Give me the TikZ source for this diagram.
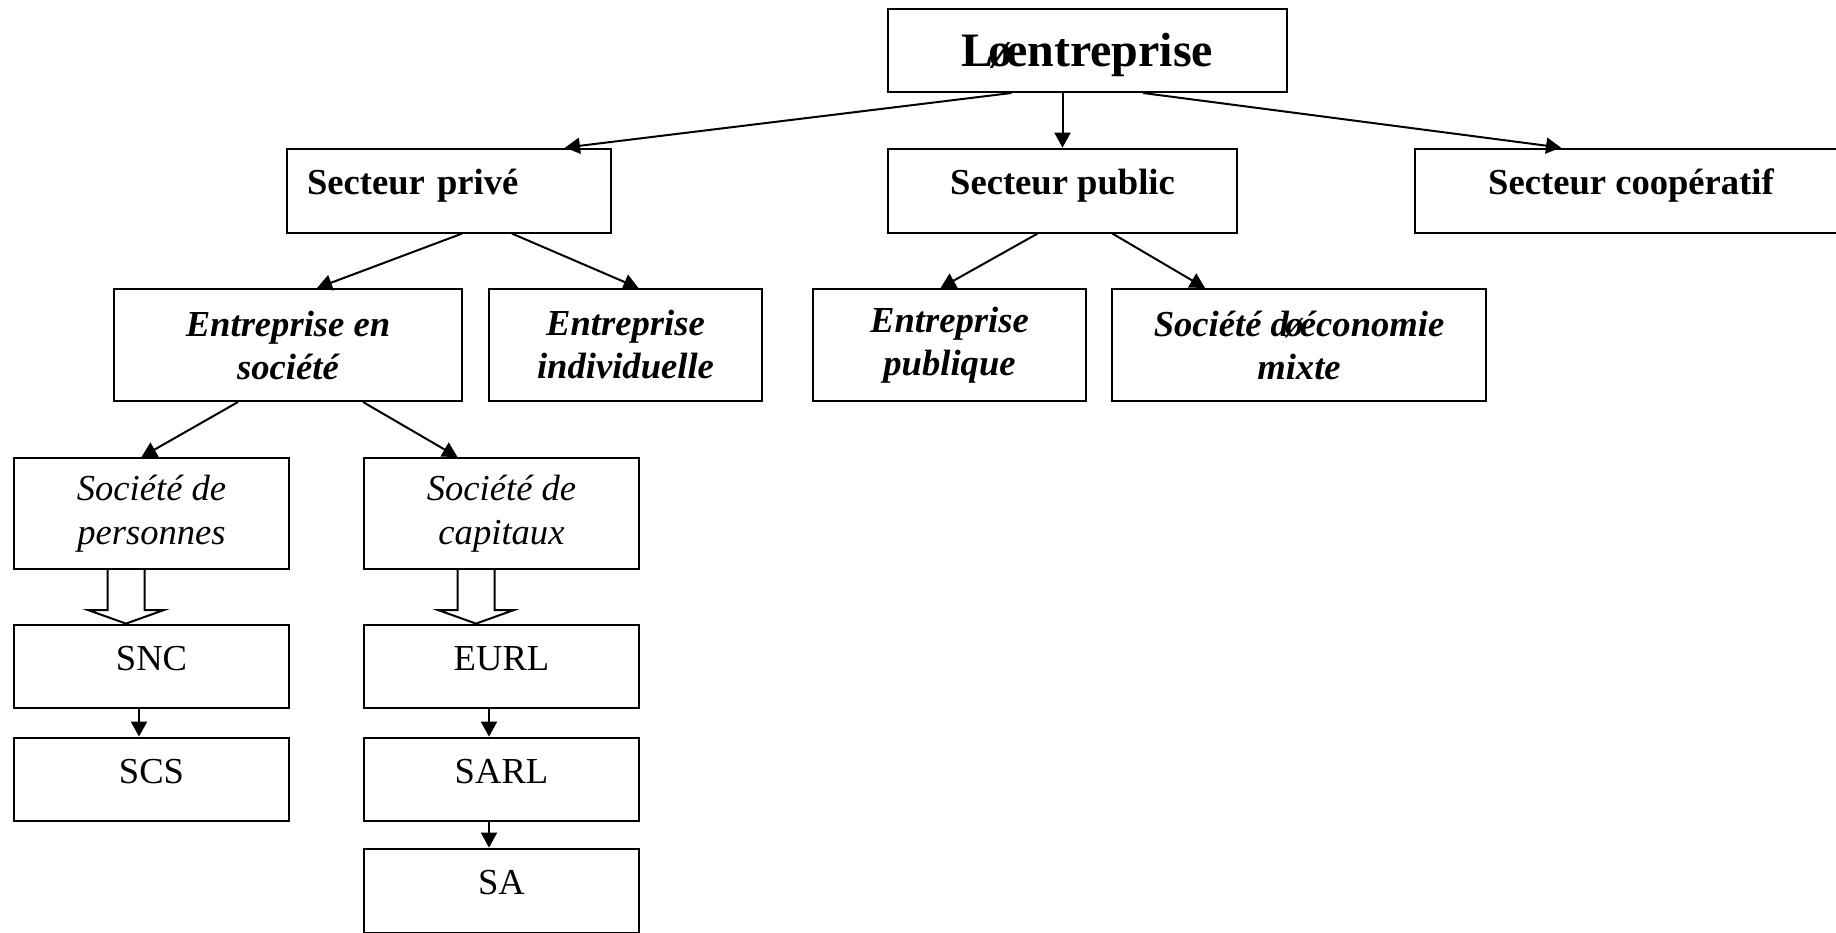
\documentclass[tikz,border=0pt]{standalone}
\usepackage{fontspec}
\setmainfont{Liberation Serif}
\usetikzlibrary{positioning}
\usetikzlibrary{arrows.meta}

\begin{document}
\begin{tikzpicture}[line width=1pt, >={Triangle[length=7.5pt, width=8pt]},
    main/.style = {draw, rectangle, inner sep=0pt},
    head/.style = {main, font=\fontsize{24}{28}\selectfont\bfseries, minimum width=199.5pt, minimum height=41.5pt, text height=16.5pt, text depth=1pt},
    sector/.style = {main, font=\fontsize{18.3}{21.5}\selectfont\bfseries, minimum height=42pt, text height=12pt, text depth=8pt},
    kind/.style = {main, font=\fontsize{18.3}{21.5}\selectfont\bfseries\itshape, minimum height=56pt, align=center},
    soc/.style = {main, font=\fontsize{18.3}{22}\selectfont\itshape, minimum width=137.5pt, minimum height=55.5pt, align=center},
    form/.style = {main, font=\fontsize{18.3}{22}\selectfont, minimum width=137.5pt, minimum height=41.5pt, text height=12pt, text depth=8pt}]
        \useasboundingbox (0,0) rectangle (918pt,-466pt);
        % top
        \node[head, anchor=north west] (1) at (443.5pt,-4pt) {L\kern-0.12em ø\kern-0.12em entreprise};
        % sectors
        \node[sector, minimum width=174.5pt] (3) [below right=27.3pt and 0pt of 1.south west] {Secteur public};
        \node[sector, text width=142pt, inner xsep=10pt, align=left] (2) [left=137.5pt of 3] {Secteur privé};
        \node[sector, minimum width=216pt] (4) [right=88pt of 3] {Secteur coopératif};
        % kinds of firms
        \node[kind, minimum width=174pt, anchor=north west] (5) at (56.5pt,-144pt) {Entreprise en\\société};
        \node[kind, minimum width=136.5pt] (6) [right=12.5pt of 5] {Entreprise\\individuelle};
        \node[kind, minimum width=136.5pt] (7) [right=24.5pt of 6] {Entreprise\\publique};
        \node[kind, minimum width=187pt] (8) [right=12pt of 7] {Société d\kern-0.1em ø\kern-0.1em économie\\mixte};
        % societies
        \node[soc, anchor=north west] (9) at (6.5pt,-228.5pt) {Société de\\personnes};
        \node[soc] (10) [right=36.5pt of 9] {Société de\\capitaux};
        \node[form] (11) [below=26.8pt of 9] {SNC};
        \node[form] (12) [below=14pt of 11] {SCS};
        \node[form] (13) [below=26.8pt of 10] {EURL};
        \node[form] (14) [below=14pt of 13] {SARL};
        \node[form, minimum height=42pt] (15) [below=13pt of 14] {SA};
        % links
        \draw[->] ([xshift=-38pt]1.south) -- ([xshift=58pt]2.north);
        \draw[->] (1.south -| 3.north) -- (3.north);
        \draw[->] ([xshift=27.75pt]1.south) -- ([xshift=73.5pt]4.north west);
        \draw[->] ([xshift=6.5pt]2.south) -- ([xshift=14.5pt]5.north);
        \draw[->] ([xshift=31.5pt]2.south) -- ([xshift=6.5pt]6.north);
        \draw[->] ([xshift=-12.5pt]3.south) -- ([xshift=-4.5pt]7.north);
        \draw[->] ([xshift=25pt]3.south) -- ([xshift=-47pt]8.north);
        \draw[->] ([xshift=-25pt]5.south) -- ([xshift=-5pt]9.north);
        \draw[->] ([xshift=37.5pt]5.south) -- ([xshift=-22pt]10.north);
        \draw[->] ([xshift=-6.25pt]11.south) -- ([xshift=-6.25pt]12.north);
        \draw[->] ([xshift=-6.25pt]13.south) -- ([xshift=-6.25pt]14.north);
        \draw[->] ([xshift=-6.25pt]14.south) -- ([xshift=-6.25pt]15.north);
        % hollow arrows
        \draw ([xshift=-22pt]9.south) -- ++(0,-20pt) -- ++(-9.75pt,0) -- ([xshift=-12.75pt]11.north) -- ++(19pt,6.8pt) -- ++(-9.75pt,0) -- ([xshift=-3.5pt]9.south);
        \draw ([xshift=-22pt]10.south) -- ++(0,-20pt) -- ++(-9.75pt,0) -- ([xshift=-12.75pt]13.north) -- ++(19pt,6.8pt) -- ++(-9.75pt,0) -- ([xshift=-3.5pt]10.south);
\end{tikzpicture}
\end{document}
